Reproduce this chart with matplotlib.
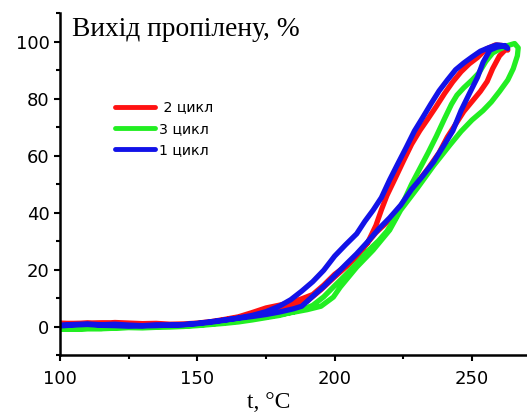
import matplotlib
matplotlib.use("Agg")
import matplotlib.pyplot as plt
import numpy as np
from matplotlib.ticker import MultipleLocator

# ---------------- data ----------------
# cycle 1 (blue)
blue_heat_t = [100, 105, 110, 115, 120, 125, 130, 135, 140, 145, 150, 155, 160, 165, 170, 175, 180, 185,
               188, 192, 196, 200, 204, 208, 212, 216, 220, 224, 228, 232, 236, 240, 243, 246, 249, 252,
               254, 256.5, 259, 262]
blue_heat_y = [0.3, 0.6, 0.8, 0.5, 0.4, 0.2, 0.3, 0.4, 0.6, 0.8, 1.2, 1.8, 2.4, 3.0, 3.6, 4.3, 5.2, 6.3,
               7.2, 10.7, 14.1, 17.9, 21.8, 25.6, 29.8, 34.3, 38.2, 42.6, 48.2, 52.8, 57.8, 64.0, 68.7, 75.8,
               81.7, 87.5, 92.7, 97.0, 98.0, 98.6]
blue_cool_t = [263, 261, 259, 256, 253, 250, 247, 244, 241, 238, 235, 232, 229, 226, 223, 220, 217, 214,
               211, 208, 204, 200, 196, 192, 188, 184, 180, 175, 170, 165, 160, 155, 150, 145, 140, 135,
               130, 125, 120, 115, 110, 105, 100]
blue_cool_y = [97.6, 98.6, 98.8, 97.8, 96.6, 94.6, 92.5, 90.1, 86.5, 82.7, 78.1, 73.3, 68.6, 62.8, 57.2,
               51.5, 45.3, 40.9, 37.0, 32.6, 28.8, 24.8, 19.8, 15.8, 12.5, 9.5, 7.3, 5.3, 4.0, 3.1, 2.3,
               1.6, 1.1, 0.7, 0.5, 0.7, 0.4, 0.6, 0.9, 0.7, 1.0, 0.8, 0.6]

# cycle 2 (red)
red_heat_t = [100, 105, 110, 115, 120, 125, 130, 135, 140, 145, 150, 155, 160, 165, 170, 175, 180, 185,
              190, 195, 200, 205, 210, 215, 220, 225, 230, 234, 238, 241, 244, 247, 250, 253, 255.5,
              257.5, 260, 262.5]
red_heat_y = [1.0, 1.2, 1.0, 1.3, 1.0, 0.8, 0.7, 0.5, 0.4, 0.6, 1.0, 1.6, 2.4, 3.2, 4.2, 5.5, 6.3, 7.2,
              9.0, 13.0, 17.5, 21.8, 27.2, 33.0, 37.5, 43.5, 50.5, 55.5, 61.0, 66.5, 71.0, 75.5, 79.0,
              82.5, 86.0, 90.5, 95.0, 97.5]
red_cool_t = [263, 261, 258.5, 255, 252, 249, 246, 243, 240, 237, 234, 231, 228, 225, 222, 219, 217, 215,
              212, 208, 204, 200, 196, 192, 188, 184, 180, 175, 170, 165, 160, 155, 150, 145, 140, 135,
              130, 125, 120, 115, 110, 105, 100]
red_cool_y = [97.0, 98.6, 98.8, 97.3, 94.4, 92.2, 89.4, 85.9, 81.8, 77.3, 73.0, 68.8, 64.0, 58.1, 52.0,
              46.0, 41.0, 35.5, 29.5, 24.6, 21.3, 18.4, 14.6, 11.3, 9.8, 8.5, 7.6, 6.6, 5.0, 3.5, 2.6,
              1.8, 1.3, 1.0, 0.9, 1.2, 1.1, 1.3, 1.5, 1.2, 1.4, 1.1, 1.3]

# cycle 3 (green)
green_heat_t = [100, 105, 110, 115, 120, 125, 130, 135, 140, 145, 150, 155, 160, 165, 170, 175, 180, 185,
                190, 195, 199.5, 202, 208, 214, 220, 224, 230, 236, 242, 246, 250, 254, 257, 260, 263,
                265, 266.5, 266.8, 265.5]
green_heat_y = [-0.8, -0.9, -0.7, -0.6, -0.3, -0.2, 0.0, 0.1, 0.2, 0.3, 0.6, 1.0, 1.5, 2.0, 2.8, 3.5, 4.3,
                5.1, 6.0, 7.2, 10.4, 13.9, 20.9, 26.9, 33.9, 40.9, 48.5, 56.5, 63.8, 68.5, 72.5, 75.8,
                78.8, 82.5, 86.5, 90.5, 95.0, 97.8, 99.3]
green_cool_t = [263, 260, 257.5, 255, 252.5, 250, 247, 244.5, 242.5, 240, 237, 234, 231, 228, 225, 222,
                219, 216, 212, 208, 204, 200, 196, 192, 188, 184, 180, 175, 170, 165, 160, 155, 150, 145,
                140, 135, 130, 125, 120, 115, 110, 105, 100]
green_cool_y = [98.6, 97.3, 96.0, 93.0, 89.0, 86.5, 83.8, 81.2, 78.0, 73.0, 66.8, 61.0, 55.5, 50.0, 43.8,
                38.0, 33.5, 30.2, 26.5, 22.2, 18.2, 14.4, 10.5, 7.5, 6.0, 5.0, 4.0, 3.2, 2.4, 1.7, 1.2,
                0.8, 0.4, 0.1, -0.1, -0.2, -0.4, -0.3, -0.5, -0.7, -0.6, -0.8, -0.7]

legend_labels = [" 2 цикл", "3 цикл", "1 цикл"]
title_text = "Вихід пропілену, %"
xlabel_text = "t, °C"
x_ticks = [100, 150, 200, 250]
y_ticks = [0, 20, 40, 60, 80, 100]

# ---------------- figure ----------------
W, H = 527, 412
fig = plt.figure(figsize=(W / 100, H / 100), dpi=100)
ax = fig.add_axes([60 / W, (H - 355.3) / H, (W - 60) / W, (355.3 - 13) / H])

lw = 3.8
red_c, green_c, blue_c = "#ff1212", "#22ee22", "#1212e8"
l2, = ax.plot(red_heat_t + red_cool_t, red_heat_y + red_cool_y, color=red_c, lw=lw,
              solid_joinstyle="round", solid_capstyle="round")
l3, = ax.plot(green_heat_t + green_cool_t, green_heat_y + green_cool_y, color=green_c, lw=lw,
              solid_joinstyle="round", solid_capstyle="round")
l1, = ax.plot(blue_heat_t + blue_cool_t, blue_heat_y + blue_cool_y, color=blue_c, lw=lw,
              solid_joinstyle="round", solid_capstyle="round")

ax.set_xlim(100, 270)
ax.set_ylim(-10, 110)
ax.set_xticks(x_ticks)
ax.set_yticks(y_ticks)
ax.xaxis.set_minor_locator(MultipleLocator(25))
ax.yaxis.set_minor_locator(MultipleLocator(10))

for s in ("top", "right"):
    ax.spines[s].set_visible(False)
for s in ("left", "bottom"):
    ax.spines[s].set_linewidth(1.8)

ax.tick_params(which="major", direction="out", length=4.5, width=1.5, labelsize=13)
ax.tick_params(which="minor", direction="out", length=3, width=1.5)
ax.tick_params(axis="y", which="major", pad=3)
ax.tick_params(axis="x", which="major", pad=6)
for lab in ax.get_xticklabels() + ax.get_yticklabels():
    lab.set_fontfamily("DejaVu Sans")

ax.text(104.4, 101.8, title_text, ha="left", va="baseline",
        fontfamily="Liberation Serif", fontsize=19.8)

ax.set_xlabel(xlabel_text, fontfamily="Liberation Serif", fontsize=17)
ax.xaxis.set_label_coords((269 - 60) / (W - 60), (355.3 - 408) / (355.3 - 13))
ax.xaxis.label.set_va("baseline")

leg = ax.legend([l2, l3, l1], legend_labels, loc="upper left",
                bbox_to_anchor=(115 / W, (H - 100.5) / H), bbox_transform=fig.transFigure,
                frameon=False, borderpad=0, borderaxespad=0, handlelength=2.85,
                handletextpad=0.25, labelspacing=0.52,
                prop={"family": "DejaVu Sans", "size": 10.2})
for h in leg.get_lines():
    h.set_linewidth(3.5)

fig.savefig("out.png", dpi=100)
